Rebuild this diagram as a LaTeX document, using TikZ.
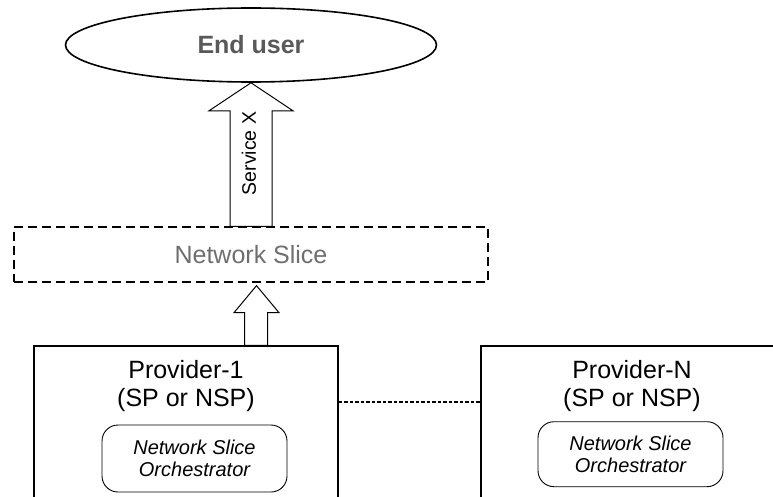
\documentclass[tikz,border=0pt]{standalone}
\usepackage{fontspec}
\setmainfont{Liberation Sans}
\usetikzlibrary{shapes.geometric,calc}
\definecolor{eugray}{HTML}{595959}
\definecolor{nsgray}{HTML}{6E6E6E}
\tikzset{
  userell/.style={draw, ellipse, line width=1.6pt, minimum width=371pt, minimum height=74pt, inner sep=0pt,
    font=\fontsize{25}{28}\selectfont\bfseries, text=eugray},
  slicebox/.style={draw, dashed, dash pattern=on 9pt off 5pt, line width=1.3pt, minimum width=474pt, minimum height=55pt, inner sep=0pt,
    font=\fontsize{25}{28}\selectfont, text=nsgray},
  provbox/.style={draw, line width=1.4pt, inner sep=0pt},
  provtext/.style={align=center, font=\fontsize{25}{28}\selectfont, inner sep=0pt},
  orchbox/.style={draw, rounded corners=16pt, line width=0.9pt, inner sep=0pt, align=center,
    font=\fontsize{20}{22.5}\selectfont\itshape},
  fatarrow/.style={draw, fill=white, line width=1pt, line join=miter},
  linkline/.style={draw, dash pattern=on 3.5pt off 2pt, line width=2pt},
  svclabel/.style={rotate=90, font=\fontsize{19.5}{20}\selectfont, inner sep=0pt}
}
\begin{document}
\begin{tikzpicture}[x=1pt,y=-1pt]
\useasboundingbox (0,0) rectangle (773,497);
\clip (0,0) rectangle (773,497);
% nodes
\node[userell] (eu) at (251,45) {End user};
\node[slicebox] (ns) at (251,254.5) {Network Slice};
\node[provbox, minimum width=304pt, minimum height=184pt] (p1) at (186,438) {};
\node[provbox, minimum width=320pt, minimum height=184pt] (pN) at (641,438) {};
\node[provtext] (p1t) at (186,386) {Provider-1\\(SP or NSP)};
\node[provtext] (pNt) at (632,386) {Provider-N\\(SP or NSP)};
\node[orchbox, minimum width=185pt, minimum height=67pt] (o1) at (194.5,458.5) {Network Slice\\Orchestrator};
\node[orchbox, minimum width=185pt, minimum height=65pt] (oN) at (630.5,454.2) {Network Slice\\Orchestrator};
% big arrow: ns -> eu
\draw[fatarrow] ([xshift=-21pt]ns.north) -- ([xshift=-21pt,yshift=-28pt]eu.south)
  -- ([xshift=-42pt,yshift=-28pt]eu.south) -- (eu.south)
  -- ([xshift=42pt,yshift=-28pt]eu.south) -- ([xshift=21pt,yshift=-28pt]eu.south)
  -- ([xshift=21pt]ns.north) -- cycle;
\node[svclabel] (svc) at ($(eu.south)!0.5!(ns.north)+(-2,-1)$) {Service X};
% small arrow: p1 -> ns
\draw[fatarrow] ([xshift=58.5pt]p1.north) -- ([xshift=-6.5pt,yshift=-30pt]ns.south)
  -- ([xshift=-17pt,yshift=-30pt]ns.south) -- ([xshift=5.5pt,yshift=-3pt]ns.south)
  -- ([xshift=28pt,yshift=-30pt]ns.south) -- ([xshift=16.5pt,yshift=-30pt]ns.south)
  -- ([xshift=81.5pt]p1.north) -- cycle;
% dotted link
\draw[linkline] ([yshift=36pt]p1.east) -- ([yshift=36pt]pN.west);
\end{tikzpicture}
\end{document}
